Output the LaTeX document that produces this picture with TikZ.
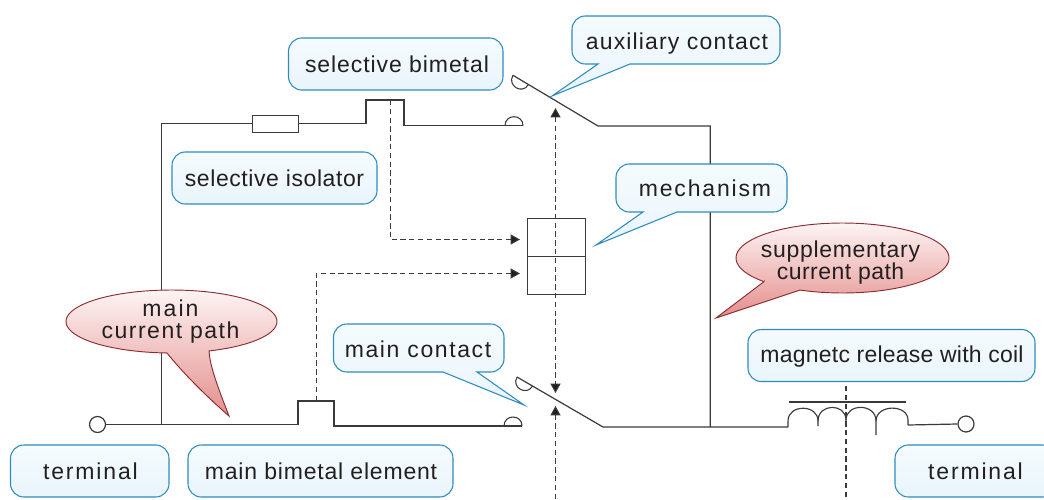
\documentclass[tikz,border=0pt]{standalone}
\usepackage{fontspec}
\setmainfont{Liberation Sans}
\usetikzlibrary{arrows.meta}
\definecolor{ink}{HTML}{231F20}
\definecolor{wirec}{HTML}{3A3A3A}
\definecolor{bluel}{HTML}{2E8BBE}
\definecolor{redl}{HTML}{8E2A33}
\definecolor{HTMLtop}{HTML}{F5FBFE}
\definecolor{HTMLbot}{HTML}{E9F5FC}
\definecolor{redtop}{HTML}{FDF4F4}
\definecolor{redbot}{HTML}{E38E8B}
\newcommand{\lsp}[2]{{\addfontfeatures{LetterSpace=#1}#2}}
\tikzset{
  x=0.75pt,y=-0.75pt,
  wire/.style={draw=wirec,line width=0.9pt,line join=miter},
  thinbox/.style={draw=wirec,line width=0.65pt,inner sep=0pt,outer sep=0pt},
  dashline/.style={draw=wirec,line width=0.8pt,dash pattern=on 4pt off 2.6pt},
  dasharrow/.style={dashline,-{Triangle[length=7pt,width=7.5pt,fill=ink]}},
  openc/.style={circle,draw=wirec,line width=0.9pt,fill=white,minimum size=12pt,inner sep=0pt},
  bluebub/.style={draw=bluel,line width=0.8pt,top color=HTMLtop,bottom color=HTMLbot},
  bluebox/.style={bluebub,rounded corners=10pt,inner sep=0pt,outer sep=0pt,minimum width=#1*0.75pt,minimum height=39pt},
  redbub/.style={draw=redl,line width=0.7pt,top color=redtop,bottom color=redbot},
  lab/.style={text=ink,inner sep=0pt,align=center,font=\fontsize{17.25}{16.5}\selectfont},
}
\begin{document}
\begin{tikzpicture}
\useasboundingbox (0,0) rectangle (1044,499);
\clip (0,0) rectangle (1044,499);
% ----- named points
\node[openc] (tl) at (97.5,424.5) {};
\node[openc] (tr) at (966,424) {};
\node[thinbox,minimum width=34.5pt,minimum height=12.5pt] (res) at (275,123.7) {};
\coordinate (j1) at (161.3,424.5);
\coordinate (j1top) at (161.3,123.7);
\coordinate (b1a) at (366,123.7);
\coordinate (b1b) at (366,100);
\coordinate (b1c) at (404,100);
\coordinate (b1d) at (404,125.7);
\coordinate (c1) at (523,125.7);
\coordinate (c1s) at (505,125.7);
\coordinate (s1a) at (513,75.3);
\coordinate (s1b) at (598,126);
\coordinate (s1e) at (710.2,126);
\coordinate (j2) at (710.2,427);
\coordinate (b2a) at (298,424.5);
\coordinate (b2b) at (298,401);
\coordinate (b2c) at (334,401);
\coordinate (b2d) at (334,426);
\coordinate (c2s) at (504,426);
\coordinate (c2) at (522,426);
\coordinate (s2a) at (517,377);
\coordinate (s2b) at (603,427);
\coordinate (coilL) at (788,427);
\coordinate (coilR) at (908,425);
% ----- wires
\draw[wire] (tl.east) -- (b2a) -- (b2b) -- (b2c) -- (b2d) -- (c2);
\draw[wire] (j1) -- (j1top) -- (res.west);
\draw[wire] (res.east) -- (b1a) -- (b1b) -- (b1c) -- (b1d) -- (c1);
\draw[wire] (s1a) -- (s1b) -- (s1e) -- (j2);
\draw[wire] (s2a) -- (s2b) -- (coilL);
\draw[wire] (coilR) -- (tr.west);
% contacts
\draw[wire,line width=0.8pt] (c1s) .. controls (505,113.7) and (523,113.7) .. (c1);
\draw[wire,line width=0.8pt] (c2s) .. controls (504,414) and (522,414) .. (c2);
\draw[wire,line width=0.8pt] (s1a) .. controls (506.8,85.6) and (522.2,94.9) .. (528.3,84.8);
\draw[wire,line width=0.8pt] (s2a) .. controls (511,387.4) and (526.6,396.4) .. (532.6,386);
% mechanism box
\node[thinbox,minimum width=43.5pt,minimum height=28.5pt] (mtop) at (556,237) {};
\node[thinbox,minimum width=43.5pt,minimum height=28.5pt] (mbot) at (556,275) {};
% coil
\draw[wire,line width=0.85pt] (coilL) -- (788,421) .. controls (788,404) and (818,404) .. (818,421) -- (818,426);
\draw[wire,line width=0.85pt] (818,421) .. controls (818,403) and (846,403) .. (846,420) -- (846,426);
\draw[wire,line width=0.85pt] (846,420) .. controls (846,403) and (876,403) .. (876,421) -- (876,435);
\draw[wire,line width=0.85pt] (876,421) .. controls (876,404) and (908,404) .. (908,420) -- (coilR);
\coordinate (barL) at (789,402);
\coordinate (barR) at (906,402);
\draw[wire] (barL) -- (barR);
% dashed links
\coordinate (d1s) at (390.2,100);
\coordinate (d1a) at (520,239.5);
\coordinate (d2s) at (316.3,401);
\coordinate (d2a) at (520,273.5);
\draw[dasharrow] (d1s) |- (d1a);
\draw[dasharrow] (d2s) |- (d2a);
\coordinate (v1) at (555.5,108);
\coordinate (v2) at (555.5,393);
\coordinate (v3) at (555.5,499);
\coordinate (v4) at (555.5,406);
\draw[dashline,{Triangle[length=7pt,width=7.5pt,fill=ink]}-{Triangle[length=7pt,width=7.5pt,fill=ink]}] (v1) -- (v2);
\draw[dasharrow] (v3) -- (v4);
\coordinate (m1) at (846,386);
\coordinate (m2) at (846,499);
\draw[dashline] (m1) -- (m2);
% ----- blue boxes
\node[bluebox=214.5] (Bsb) at (395.75,64) {};
\node[bluebox=205] (Bsi) at (274.5,178) {};
\node[bluebox=158.5] (Btl) at (89.75,471) {};
\node[bluebox=265] (Bmb) at (320.5,471) {};
\node[bluebox=287] (Bmr) at (891.5,355.5) {};
\node[bluebox=161] (Btr) at (975.5,471) {};
% tailed
\path[bluebub] (552,96) -- (598,64) [rounded corners=10pt]-- (572,64) -- (572,16) -- (780,16) -- (780,64) [sharp corners]-- (630,64) -- cycle;
\path[bluebub] (596,245) -- (643,212) [rounded corners=10pt]-- (616,212) -- (616,164) -- (787,164) -- (787,212) [sharp corners]-- (677,212) -- cycle;
\path[bluebub] (524,405) -- (443,372) [rounded corners=10pt]-- (333.5,372) -- (333.5,324) -- (504,324) -- (504,372) [sharp corners]-- (477,372) -- cycle;
% ----- red bubbles
\path[redbub] (229,416) .. controls (215,380) and (210,365) .. (209,351)
  -- plot[domain=69:-267.5,samples=90] ({171.5+105.5*cos(\x)},{321.5+31.5*sin(\x)})
  .. controls (185,375) and (205,395) .. (229,416) -- cycle;
\path[redbub] (716,318) -- (764,281.6)
  -- plot[domain=137.5:473.6,samples=90] ({842.5+106.5*cos(\x)},{258+35*sin(\x)})
  -- cycle;
% ----- labels
\node[lab] (Lsb) at (397,64.5) {\lsp{4}{selective bimetal}};
\node[lab] (Lac) at (677,43.5) {\lsp{5}{auxiliary contact}};
\node[lab] (Lsi) at (274.5,178) {\lsp{2.5}{selective isolator}};
\node[lab] (Lme) at (705,188) {\lsp{8}{mechanism}};
\node[lab] (Lsu) at (840.5,263) {\lsp{3}{supplementary}\\\lsp{2}{current path}};
\node[lab] (Lma) at (170.5,322) {\lsp{9}{main}\\\lsp{6.5}{current path}};
\node[lab] (Lmc) at (418,349) {\lsp{7}{main contact}};
\node[lab] (Lmr) at (892,356.5) {\lsp{1}{magnetc release with coil}};
\node[lab] (Ltl) at (90.5,471) {\lsp{8}{terminal}};
\node[lab] (Lmb) at (321,471) {\lsp{3.5}{main bimetal element}};
\node[lab] (Ltr) at (975.5,471) {\lsp{8}{terminal}};
\end{tikzpicture}
\end{document}
